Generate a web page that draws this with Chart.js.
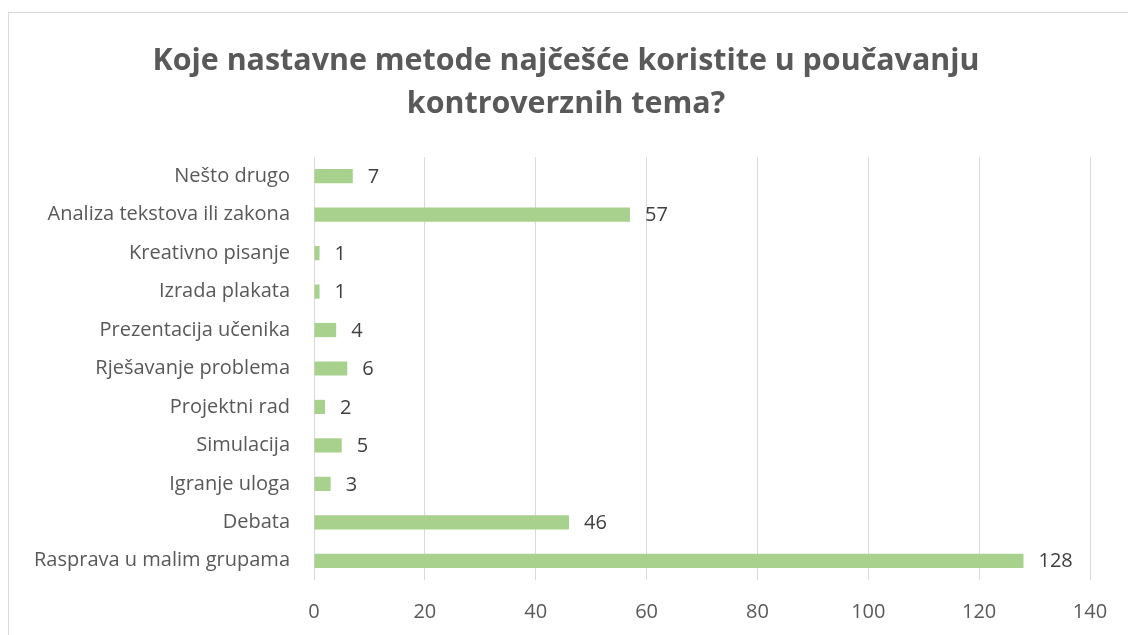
<!DOCTYPE html>
<html>
<head>
<meta charset="utf-8">
<script src="https://cdn.jsdelivr.net/npm/chart.js@4.4.0/dist/chart.umd.min.js"></script>
<style>
  html, body { margin: 0; padding: 0; background: #fff; overflow: hidden; }
  #wrap { position: relative; width: 1128px; height: 635px; }
  #frame { position: absolute; left: 8px; top: 12px; width: 1140px; height: 640px; border: 1px solid #d9d9d9; }
  canvas { position: absolute; left: 0; top: 0; }
</style>
</head>
<body>
<div id="wrap">
  <div id="frame"></div>
  <canvas id="methodsChart" width="1128" height="635"></canvas>
</div>
<script>
// categories top -> bottom as shown
const methods = [
    "Nešto drugo",
    "Analiza tekstova ili zakona",
    "Kreativno pisanje",
    "Izrada plakata",
    "Prezentacija učenika",
    "Rješavanje problema",
    "Projektni rad",
    "Simulacija",
    "Igranje uloga",
    "Debata",
    "Rasprava u malim grupama"
];
const answers = [7, 57, 1, 1, 4, 6, 2, 5, 3, 46, 128];
const xTicks = [0, 20, 40, 60, 80, 100, 120, 140];

const titleLines = ["Koje nastavne metode najčešće koristite u poučavanju", "kontroverznih tema?"];
const fontFam = "'Open Sans', 'Noto Sans', sans-serif";

// title is centred on the outer frame, not on the plot, so draw it by hand
const frameTitle = {
    id: "frameTitle",
    afterDraw(chart) {
        const ctx = chart.ctx;
        ctx.save();
        ctx.font = "bold 30.4px " + fontFam;
        ctx.fillStyle = "#595959";
        ctx.textAlign = "center";
        ctx.textBaseline = "middle";
        titleLines.forEach((line, i) => ctx.fillText(line, 566, 61 + i * 43));
        ctx.restore();
    }
};

// draws value next to each bar (no datalabels plugin offline)
const barValues = {
    id: "barValues",
    afterDatasetsDraw(chart) {
        const ctx = chart.ctx;
        const meta = chart.getDatasetMeta(0);
        ctx.save();
        ctx.font = "20px " + fontFam;
        ctx.fillStyle = "#404040";
        ctx.textBaseline = "middle";
        ctx.textAlign = "left";
        meta.data.forEach((bar, i) => {
            ctx.fillText(String(answers[i]), bar.x + 15, bar.y + 1);
        });
        ctx.restore();
    }
};

const ctx = document.getElementById("methodsChart").getContext("2d");

new Chart(ctx, {
    type: "bar",
    data: {
        labels: methods,
        datasets: [
            {
                data: answers,
                backgroundColor: "#a9d18e",
                borderWidth: 0,
                barPercentage: 0.37,
                categoryPercentage: 1.0
            }
        ]
    },
    options: {
        indexAxis: "y",
        responsive: false,
        animation: false,
        layout: { padding: { top: 157, right: 38, left: 0, bottom: 0 } },
        scales: {
            x: {
                min: 0,
                max: 140,
                afterBuildTicks: (s) => { s.ticks = xTicks.map(v => ({ value: v })); },
                afterFit: (s) => { s.height = 55; },
                ticks: { color: "#595959", font: { size: 20, family: fontFam }, padding: 20 },
                grid: { color: "#d9d9d9", lineWidth: 1, drawTicks: false },
                border: { display: false }
            },
            y: {
                afterFit: (s) => { s.width = 314; },
                ticks: { color: "#595959", font: { size: 20, family: fontFam }, padding: 24 },
                grid: { display: false, drawTicks: false },
                border: { display: false }
            }
        },
        plugins: {
            title: { display: false },
            legend: { display: false },
            tooltip: { enabled: false }
        }
    },
    plugins: [barValues, frameTitle]
});
</script>
</body>
</html>
